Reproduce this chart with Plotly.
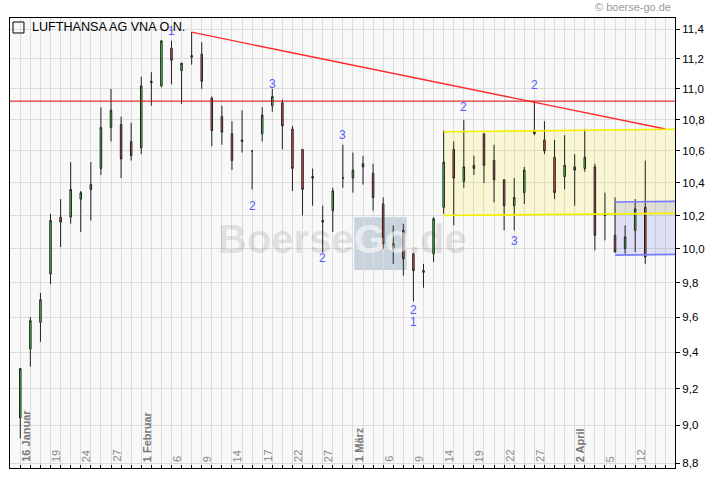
import math
import plotly.graph_objects as go

# ---------------- data ----------------
day_index = list(range(63))  # trading days 16 Jan 2012 .. 13 Apr 2012
opens = [9.04, 9.42, 9.57, 9.85, 10.19, 10.19, 10.30, 10.39, 10.49, 10.75,
         10.77, 10.66, 10.62, 11.04, 11.02, 11.27, 11.12, 11.21, 11.23, 10.94,
         10.82, 10.71, 10.67, 10.60, 10.71, 10.89, 10.91, 10.74, 10.61, 10.44,
         10.17, 10.23, 10.43, 10.43, 10.52, 10.46, 10.27, 10.00, 10.11, 9.97,
         9.86, 9.97, 10.25, 10.61, 10.41, 10.51, 10.71, 10.54, 10.42, 10.26,
         10.34, 10.73, 10.67, 10.56, 10.44, 10.50, 10.49, 10.50, 10.21, 10.08,
         10.00, 10.11, 10.25]
highs = [9.31, 9.60, 9.74, 10.21, 10.30, 10.53, 10.35, 10.53, 10.88, 11.00,
         10.82, 10.78, 11.08, 11.11, 11.32, 11.32, 11.17, 11.38, 11.31, 10.95,
         10.89, 10.79, 10.86, 10.60, 10.88, 11.00, 10.93, 10.76, 10.61, 10.49,
         10.26, 10.37, 10.64, 10.59, 10.57, 10.52, 10.31, 10.14, 10.15, 9.97,
         9.91, 10.19, 10.73, 10.66, 10.80, 10.57, 10.71, 10.64, 10.42, 10.43,
         10.50, 10.92, 10.79, 10.67, 10.70, 10.58, 10.74, 10.52, 10.34, 10.31,
         10.14, 10.30, 10.54]
lows = [8.93, 9.32, 9.46, 9.79, 10.01, 10.15, 10.10, 10.17, 10.45, 10.66,
        10.43, 10.54, 10.58, 10.89, 11.01, 11.03, 10.90, 11.16, 11.00, 10.63,
        10.64, 10.48, 10.59, 10.36, 10.66, 10.85, 10.61, 10.35, 10.20, 10.26,
        9.98, 10.10, 10.37, 10.34, 10.39, 10.23, 10.00, 9.91, 9.84, 9.69,
        9.77, 9.92, 10.21, 10.14, 10.37, 10.45, 10.40, 10.28, 10.11, 10.11,
        10.27, 10.70, 10.58, 10.30, 10.36, 10.26, 10.47, 9.99, 10.05, 9.98,
        9.97, 9.98, 9.91]
closes = [9.31, 9.58, 9.70, 10.17, 10.16, 10.36, 10.34, 10.36, 10.75, 10.86,
          10.55, 10.57, 11.02, 11.05, 11.32, 11.19, 11.17, 11.22, 11.05, 10.73,
          10.72, 10.54, 10.66, 10.60, 10.83, 10.95, 10.76, 10.49, 10.36, 10.43,
          10.16, 10.35, 10.43, 10.48, 10.50, 10.31, 10.03, 10.03, 9.94, 9.87,
          9.87, 10.18, 10.53, 10.43, 10.50, 10.49, 10.51, 10.42, 10.26, 10.31,
          10.48, 10.71, 10.60, 10.34, 10.51, 10.48, 10.56, 10.08, 10.20, 9.98,
          10.07, 10.24, 9.95]

date_idx = [0, 3, 6, 9, 12, 15, 18, 21, 24, 27, 30, 33, 36, 39, 42, 45, 48, 51, 55, 58, 61]
date_text = ["16 Januar", "19", "24", "27", "1 Februar", "6", "9", "14", "17", "22",
             "27", "1 März", "6", "9", "14", "19", "22", "27", "2 April", "5", "12"]
month_labels = {"16 Januar", "1 Februar", "1 März", "2 April"}

y_ticks = [8.8, 9.0, 9.2, 9.4, 9.6, 9.8, 10.0, 10.2, 10.4, 10.6, 10.8, 11.0, 11.2, 11.4]
y_tick_text = ["8,8", "9,0", "9,2", "9,4", "9,6", "9,8", "10,0", "10,2", "10,4",
               "10,6", "10,8", "11,0", "11,2", "11,4"]

# wave count labels
wave_x = [15, 25, 23, 30, 32, 39, 39, 44, 49, 51]
wave_y = [11.386, 11.034, 10.257, 9.944, 10.701, 9.642, 9.57, 10.88, 10.045, 11.024]
wave_text = ["1", "3", "2", "2", "3", "2", "1", "2", "3", "2"]

# drawn lines
trend_x = [17, 64]
trend_y = [11.378, 10.74]
resistance_level = 10.92
channel_x = [42, 65]
channel_top = [10.722, 10.738]
channel_bottom = [10.20, 10.213]
box_x = [59, 65]
box_top = [10.282, 10.286]
box_bottom = [9.962, 9.966]

FONT = "Liberation Sans, Arial, sans-serif"
PLOT_L, PLOT_W = 10, 665  # plot area in pixels (for paper-positioned decorations)


def px_x(p):
    return (p - PLOT_L) / PLOT_W


fig = go.Figure()

fig.add_trace(go.Candlestick(
    x=day_index, open=opens, high=highs, low=lows, close=closes,
    increasing=dict(fillcolor="#44f044", line=dict(color="#222222", width=1)),
    decreasing=dict(fillcolor="#ff5252", line=dict(color="#222222", width=1)),
    whiskerwidth=0, showlegend=False, hoverinfo="skip",
))

# trend line
fig.add_trace(go.Scatter(x=trend_x, y=trend_y, mode="lines",
                         line=dict(color="#ff2a2a", width=1.3),
                         showlegend=False, hoverinfo="skip"))

shapes = []


def quad_path(xs, top, bottom):
    return (f"M {xs[0]},{bottom[0]} L {xs[0]},{top[0]} L {xs[1]},{top[1]} "
            f"L {xs[1]},{bottom[1]} Z")


# yellow channel
shapes.append(dict(type="path", xref="x", yref="y",
                   path=quad_path(channel_x, channel_top, channel_bottom),
                   fillcolor="rgba(250,238,0,0.15)", line=dict(width=0), layer="between"))
# blue box
shapes.append(dict(type="path", xref="x", yref="y",
                   path=quad_path(box_x, box_top, box_bottom),
                   fillcolor="rgba(80,90,230,0.15)", line=dict(width=0), layer="between"))
# watermark box behind "Go"
shapes.append(dict(type="rect", xref="paper", yref="paper",
                   x0=0.5177, x1=0.5965, y0=0.440, y1=0.5571,
                   fillcolor="#c9d3dd", line=dict(width=0), layer="between"))

# resistance line
shapes.append(dict(type="line", xref="paper", x0=0, x1=1, yref="y",
                   y0=resistance_level, y1=resistance_level,
                   line=dict(color="#dd0000", width=1), layer="above"))
for ys in (channel_top, channel_bottom):
    shapes.append(dict(type="line", xref="x", yref="y", x0=channel_x[0], x1=channel_x[1],
                       y0=ys[0], y1=ys[1], line=dict(color="#f2f200", width=1.6),
                       layer="above"))
for ys in (box_top, box_bottom):
    shapes.append(dict(type="line", xref="x", yref="y", x0=box_x[0], x1=box_x[1],
                       y0=ys[0], y1=ys[1], line=dict(color="#7a7aff", width=1.6),
                       layer="above"))
# title icon square
shapes.append(dict(type="rect", xref="paper", yref="paper",
                   x0=0.0045, x1=0.0210, y0=0.9667, y1=0.9911,
                   fillcolor="rgba(0,0,0,0)", line=dict(color="#000000", width=1),
                   layer="above"))

annotations = []
# watermark text (three pieces so "Go" can be lighter on its box)
wm_y = 0.509
wm_split = 353.6
annotations.append(dict(
    xref="paper", yref="paper", x=px_x(wm_split), y=wm_y, xanchor="right", yanchor="middle",
    xshift=2, text="<b>Boerse</b>", showarrow=False,
    font=dict(family=FONT, size=40, color="rgba(0,0,0,0.1)"),
))
annotations.append(dict(
    xref="paper", yref="paper", x=px_x(wm_split), y=wm_y, xanchor="left", yanchor="middle",
    xshift=-2, text="<b>Go</b>", showarrow=False, opacity=0.55,
    font=dict(family=FONT, size=40, color="#ffffff"),
))
annotations.append(dict(
    xref="paper", yref="paper", x=px_x(wm_split + 55.6), y=wm_y, xanchor="left",
    yanchor="middle", xshift=-2, text="<b>.de</b>", showarrow=False,
    font=dict(family=FONT, size=40, color="rgba(0,0,0,0.1)"),
))
# title
annotations.append(dict(
    xref="paper", yref="paper", x=0.0295, y=0.981, xanchor="left", yanchor="middle",
    text="LUFTHANSA AG VNA O.N.", showarrow=False,
    font=dict(family=FONT, size=12.6, color="#000000"),
))
# copyright
annotations.append(dict(
    xref="paper", yref="paper", x=0.997, y=1.025, xanchor="right", yanchor="middle",
    text="© boerse-go.de", showarrow=False,
    font=dict(family=FONT, size=11, color="#9a9a9a"),
))
# date labels (inside plot, rotated)
for xi, t in zip(date_idx, date_text):
    bold = t in month_labels
    annotations.append(dict(
        xref="x", yref="paper", x=xi, y=0, xanchor="center", yanchor="bottom",
        xshift=5.5, yshift=4, textangle=-90, showarrow=False,
        text=f"<b>{t}</b>" if bold else t,
        font=dict(family=FONT, size=11, color="#777777" if bold else "#8a8a8a"),
    ))
# wave labels
for xi, yv, t in zip(wave_x, wave_y, wave_text):
    annotations.append(dict(
        xref="x", yref="y", x=xi, y=math.log10(yv), xanchor="center", yanchor="middle",
        text=t, showarrow=False, font=dict(family=FONT, size=12, color="#5a5aff"),
    ))

fig.update_layout(
    width=720, height=481,
    margin=dict(l=10, r=45, t=18, b=13),
    paper_bgcolor="#ffffff", plot_bgcolor="#f8f8f8",
    separators=",.",
    boxgap=0.85, boxgroupgap=0,
    shapes=shapes, annotations=annotations,
    font=dict(family=FONT, size=11, color="#000000"),
    xaxis=dict(
        range=[-1.02, 64.95], rangeslider=dict(visible=False),
        tickmode="array", tickvals=list(range(0, 65)), showticklabels=False,
        ticks="inside", ticklen=3, tickcolor="#000000", tickwidth=1,
        showgrid=True, gridcolor="#dcdcdc", gridwidth=1, zeroline=False,
        showline=True, linecolor="#000000", linewidth=1, mirror=True,
    ),
    yaxis=dict(
        type="log", side="right",
        range=[math.log10(8.774), math.log10(11.475)],
        tickmode="array", tickvals=y_ticks, ticktext=y_tick_text,
        ticks="outside", ticklen=4, tickcolor="#000000", tickwidth=1,
        tickfont=dict(family=FONT, size=11.5, color="#000000"),
        showgrid=True, gridcolor="#dcdcdc", gridwidth=1, zeroline=False,
        showline=True, linecolor="#000000", linewidth=1, mirror=True,
    ),
)

fig.write_html("out.html", config={"displayModeBar": False},
               post_script="document.body.style.margin='0';document.body.style.padding='0';")
